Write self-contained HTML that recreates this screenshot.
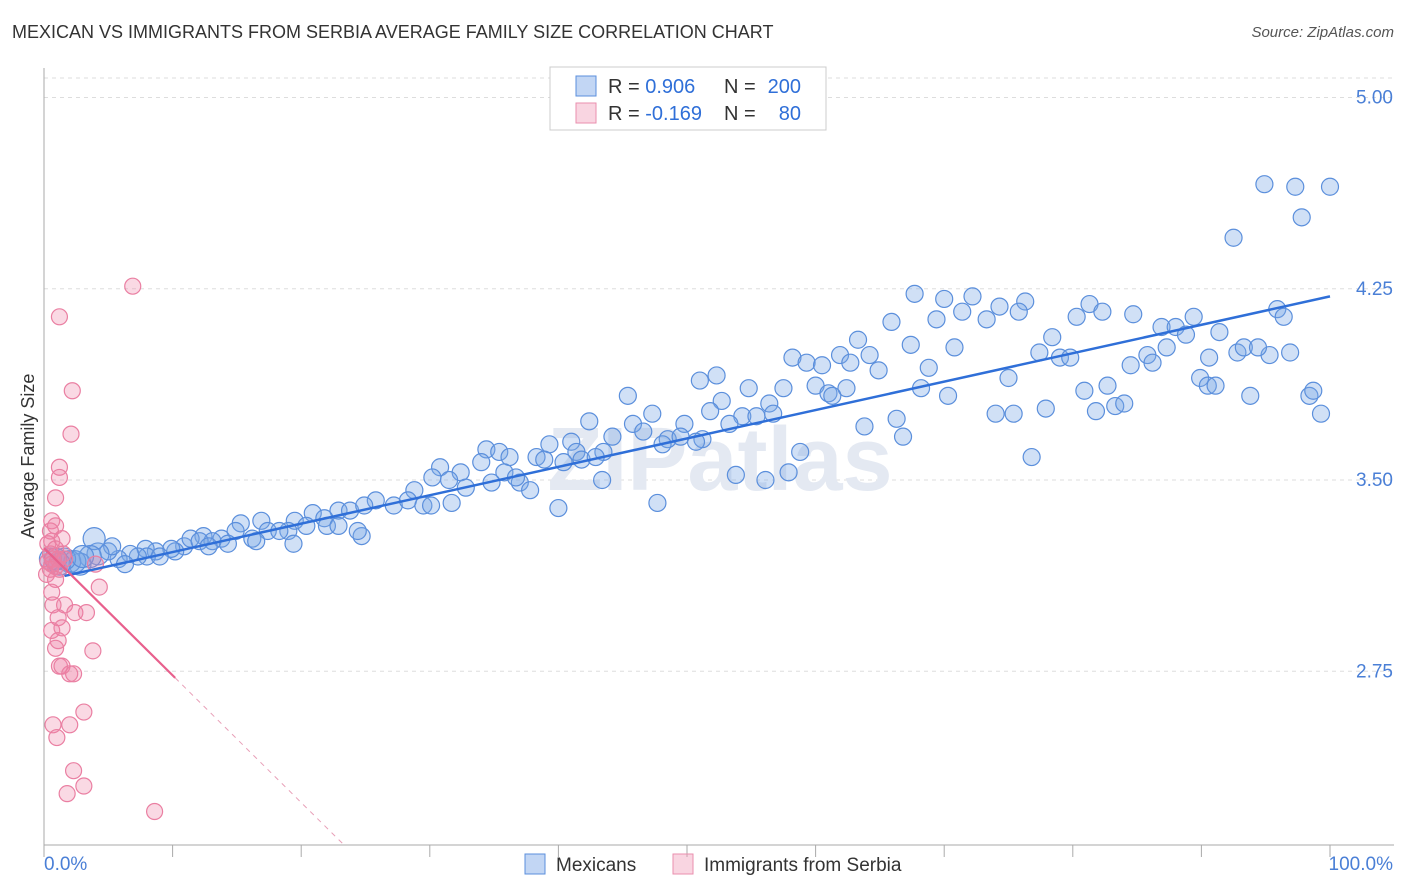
<!DOCTYPE html>
<html><head><meta charset="utf-8">
<style>
body{margin:0;background:#fff;font-family:"Liberation Sans",sans-serif;}
#wrap{position:relative;width:1406px;height:892px;overflow:hidden;}
.t{position:absolute;white-space:nowrap;}
</style></head>
<body>
<div id="wrap">
<div class="t" style="left:12px;top:22px;font-size:18px;color:#333;">MEXICAN VS IMMIGRANTS FROM SERBIA AVERAGE FAMILY SIZE CORRELATION CHART</div>
<div class="t" style="right:12px;top:24px;font-size:15px;color:#555;font-style:italic;">Source: ZipAtlas.com</div>
<svg id="plot" width="1406" height="892" style="position:absolute;left:0;top:0"></svg>
</div>
<script>
const yTicks=[5.00,4.25,3.50,2.75];
const yTickLabels=["5.00","4.25","3.50","2.75"];
const xTickPcts=[0,10,20,30,40,50,60,70,80,90,100];
const xLabels=["0.0%","100.0%"];
const legendNames=["Mexicans","Immigrants from Serbia"];
const legendR=["0.906","-0.169"];
const legendN=["200","80"];
const mexX=[94.9,97.3,100,97.8,92.5,67.7,70.0,72.2,74.3,76.3,81.3,71.4,73.3,69.4,75.8,80.3,82.3,84.7,86.9,88.0,89.4,91.4,95.9,96.4,88.8,65.9,63.3,61.9,64.2,67.4,70.8,78.4,77.4,79.0,79.8,85.8,87.3,90.6,92.8,93.3,95.3,96.9,94.4,84.5,86.2,58.2,59.3,60.5,62.7,64.9,68.8,75.0,51.0,52.3,54.8,57.5,60.0,61.0,62.4,61.3,68.2,70.3,80.9,82.7,89.9,90.5,91.1,93.8,98.4,98.7,45.4,52.7,51.8,56.4,54.3,55.4,56.7,74.0,75.4,77.9,81.8,83.3,84.0,99.3,66.3,47.3,42.4,45.8,49.8,53.3,63.8,44.2,46.6,48.5,49.5,51.2,66.8,39.3,41.0,41.4,43.5,48.1,50.7,58.8,76.8,34.4,35.4,36.2,38.3,38.9,40.4,41.8,42.9,30.8,32.4,34.0,35.8,37.0,36.7,37.8,53.8,56.1,57.9,43.4,30.2,31.5,32.8,34.8,40.0,47.7,28.8,25.8,27.2,28.3,29.5,30.1,31.7,22.9,23.8,24.9,20.9,21.8,19.5,19.0,20.4,22.0,22.9,24.7,24.4,16.9,15.3,17.4,18.3,14.9,16.2,16.5,19.4,13.8,14.3,12.4,13.1,10.9,11.4,12.1,12.8,10.2,9.9,8.7,7.9,8.0,7.3,9.0,6.7,5.8,5.0,5.3,4.2,3.9,6.3,3.6,2.8,2.0,2.4,1.6,1.2,3.0,0.5,0.9];
const mexY=[4.66,4.65,4.65,4.53,4.45,4.23,4.21,4.22,4.18,4.20,4.19,4.16,4.13,4.13,4.16,4.14,4.16,4.15,4.10,4.10,4.14,4.08,4.17,4.14,4.07,4.12,4.05,3.99,3.99,4.03,4.02,4.06,4.00,3.98,3.98,3.99,4.02,3.98,4.00,4.02,3.99,4.00,4.02,3.95,3.96,3.98,3.96,3.95,3.96,3.93,3.94,3.90,3.89,3.91,3.86,3.86,3.87,3.84,3.86,3.83,3.86,3.83,3.85,3.87,3.90,3.87,3.87,3.83,3.83,3.85,3.83,3.81,3.77,3.80,3.75,3.75,3.76,3.76,3.76,3.78,3.77,3.79,3.80,3.76,3.74,3.76,3.73,3.72,3.72,3.72,3.71,3.67,3.69,3.66,3.67,3.66,3.67,3.64,3.65,3.61,3.61,3.64,3.65,3.61,3.59,3.62,3.61,3.59,3.59,3.58,3.57,3.58,3.59,3.55,3.53,3.57,3.53,3.49,3.51,3.46,3.52,3.50,3.53,3.50,3.51,3.50,3.47,3.49,3.39,3.41,3.46,3.42,3.40,3.42,3.40,3.40,3.41,3.38,3.38,3.40,3.37,3.35,3.34,3.30,3.32,3.32,3.32,3.28,3.30,3.34,3.33,3.30,3.30,3.30,3.27,3.26,3.25,3.27,3.25,3.28,3.26,3.24,3.27,3.26,3.24,3.22,3.23,3.22,3.23,3.20,3.20,3.20,3.21,3.19,3.22,3.24,3.21,3.27,3.17,3.20,3.17,3.18,3.18,3.19,3.17,3.20,3.19,3.19];
const serX=[6.9,1.2,2.2,2.1,1.2,1.2,0.9,0.6,0.9,0.5,0.6,0.3,0.9,0.5,0.7,1.1,0.3,0.6,0.9,0.5,1.2,0.2,1.5,1.6,1.4,4.0,0.9,0.6,4.3,1.6,0.7,2.4,3.3,1.1,0.6,1.4,1.1,0.9,3.8,1.2,1.4,2.0,2.3,3.1,0.7,2.0,1.0,2.3,3.1,1.8,8.6];
const serY=[4.26,4.14,3.85,3.68,3.55,3.51,3.43,3.34,3.32,3.30,3.26,3.25,3.23,3.21,3.19,3.19,3.18,3.17,3.16,3.15,3.15,3.13,3.21,3.19,3.27,3.17,3.11,3.06,3.08,3.01,3.01,2.98,2.98,2.96,2.91,2.92,2.87,2.84,2.83,2.77,2.77,2.74,2.74,2.59,2.54,2.54,2.49,2.36,2.30,2.27,2.20];
const mexTrend=[3.106,0.01114];
const serTrend=[3.233,-0.0499];

const NS="http://www.w3.org/2000/svg";
const svg=document.getElementById('plot');
const X0=44,X1=1330,YB=845,YT=70;
const xs=p=>X0+(X1-X0)*p/100;
const ys=v=>480-(v-3.5)*255;
function el(tag,attrs,parent){const e=document.createElementNS(NS,tag);for(const k in attrs)e.setAttribute(k,attrs[k]);(parent||svg).appendChild(e);return e;}

// grid
yTicks.forEach((v,i)=>{
  const g=el('line',{x1:X0,x2:1394,y1:ys(v),y2:ys(v),stroke:'#ddd','stroke-dasharray':'4,4'});
  
  
  const t=el('text',{x:1393,y:ys(v)+6,'text-anchor':'end','font-size':19,fill:'#4a7fd6','font-family':'Liberation Sans'});
  t.textContent=yTickLabels[i];
  
  
});
const tg=el('line',{x1:X0,x2:1394,y1:78,y2:78,stroke:'#ddd','stroke-dasharray':'4,4'});


// axes
const ya=el('line',{x1:X0,x2:X0,y1:68,y2:YB,stroke:'#aaa'});


const xa=el('line',{x1:X0,x2:1394,y1:YB,y2:YB,stroke:'#aaa'});


xTickPcts.forEach(p=>{
  const t=el('line',{x1:xs(p),x2:xs(p),y1:YB,y2:YB+12,stroke:'#aaa'});
  
  
});
const xl0=el('text',{x:44,y:870,'font-size':19,fill:'#4a7fd6','font-family':'Liberation Sans'});
xl0.textContent=xLabels[0];


const xl1=el('text',{x:1393,y:870,'text-anchor':'end','font-size':19,fill:'#4a7fd6','font-family':'Liberation Sans'});
xl1.textContent=xLabels[1];


const yt=el('text',{x:34,y:456,'text-anchor':'middle','font-size':18,fill:'#333','font-family':'Liberation Sans',transform:'rotate(-90 34 456)'});
yt.textContent='Average Family Size';


// watermark
const wm=el('text',{x:720,y:490,'text-anchor':'middle','font-size':90,fill:'#e4e9f2','font-family':'Liberation Sans','font-weight':'bold'});
wm.textContent='ZIPatlas';



// points
mexX.forEach((p,i)=>{
  const c=el('circle',{cx:xs(p),cy:ys(mexY[i]),r:p<5?11:8.5,fill:'rgba(120,165,230,0.35)',stroke:'#5b8fdc','stroke-width':1.2});
  
  
});
serX.forEach((p,i)=>{
  const c=el('circle',{cx:xs(p),cy:ys(serY[i]),r:8,fill:'rgba(240,130,165,0.3)',stroke:'#ea7fa2','stroke-width':1.2});
  
  
});
// trend lines
const mt=el('line',{x1:xs(1.6),y1:ys(mexTrend[0]+mexTrend[1]*1.6),x2:xs(100),y2:ys(mexTrend[0]+mexTrend[1]*100),stroke:'#2f6fd8','stroke-width':2.5});


const st=el('line',{x1:xs(0),y1:ys(serTrend[0]),x2:xs(10.2),y2:ys(serTrend[0]+serTrend[1]*10.2),stroke:'#e8608d','stroke-width':2.2});


const pEnd=(2.069-serTrend[0])/serTrend[1];
const sd=el('line',{x1:xs(10.2),y1:ys(serTrend[0]+serTrend[1]*10.2),x2:xs(pEnd),y2:ys(serTrend[0]+serTrend[1]*pEnd),stroke:'#e8a0b8','stroke-width':1,'stroke-dasharray':'5,5'});



// top legend
const lb=el('rect',{x:550,y:67,width:276,height:63,fill:'#fff',stroke:'#ccc'});


const cols=[['rgba(120,165,230,0.45)','#5b8fdc'],['rgba(240,150,180,0.4)','#ea8fae']];
[0,1].forEach(i=>{
  const y=86+i*27;
  const s=el('rect',{x:576,y:y-10,width:20,height:20,fill:cols[i][0],stroke:cols[i][1]});
  
  
  const t=el('text',{x:608,y:y+7,'font-size':20,fill:'#333','font-family':'Liberation Sans'});
  t.innerHTML='R = <tspan fill="#2f6fd8">'+legendR[i]+'</tspan>';
  
  
  const n=el('text',{x:724,y:y+7,'font-size':20,fill:'#333','font-family':'Liberation Sans'});
  n.innerHTML='N = ';
  
  
  const nv=el('text',{x:801,y:y+7,'text-anchor':'end','font-size':20,fill:'#2f6fd8','font-family':'Liberation Sans'});
  nv.textContent=legendN[i];
  
  
});
// bottom legend
const bx=[525,673];
[0,1].forEach(i=>{
  const s=el('rect',{x:bx[i],y:854,width:20,height:20,fill:cols[i][0],stroke:cols[i][1]});
  
  
  const t=el('text',{x:bx[i]+31,y:871,'font-size':19,fill:'#333','font-family':'Liberation Sans'});
  t.textContent=legendNames[i];
  
  
});
</script>
</body></html>
